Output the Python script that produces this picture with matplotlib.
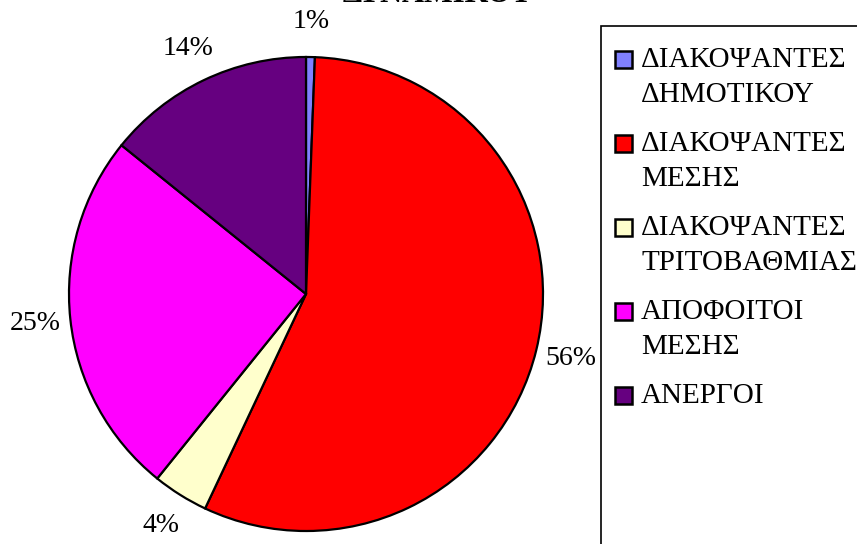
import matplotlib.pyplot as plt
from matplotlib.patches import Rectangle

plt.rcParams['font.family'] = ['Liberation Serif', 'DejaVu Serif']

# ---------- data ----------
categories = ["ΔΙΑΚΟΨΑΝΤΕΣ\nΔΗΜΟΤΙΚΟΥ", "ΔΙΑΚΟΨΑΝΤΕΣ\nΜΕΣΗΣ",
              "ΔΙΑΚΟΨΑΝΤΕΣ\nΤΡΙΤΟΒΑΘΜΙΑΣ", "ΑΠΟΦΟΙΤΟΙ\nΜΕΣΗΣ", "ΑΝΕΡΓΟΙ"]
shares = [0.6, 56.4, 3.8, 25.0, 14.2]
pct_labels = ["1%", "56%", "4%", "25%", "14%"]
colors = ["#8080FF", "#FF0000", "#FFFFCC", "#FF00FF", "#660080"]
title = "ΔΥΝΑΜΙΚΟΥ"

W, H = 857, 544
fig = plt.figure(figsize=(W/100, H/100), dpi=100)

# pie: centre (306,294) px, radius 237 px
cx, cy, r = 306, 294, 237
ax = fig.add_axes([(cx-r)/W, (H-cy-r)/H, 2*r/W, 2*r/H])
wedges, texts = ax.pie(shares, colors=colors, startangle=90, counterclock=False,
                       labels=pct_labels, labeldistance=1.15,
                       wedgeprops=dict(edgecolor="black", linewidth=1.6),
                       textprops=dict(fontsize=20))
for t in texts:
    t.set_ha("center"); t.set_va("center")
ax.set_xlim(-1, 1); ax.set_ylim(-1, 1)
ax.set_aspect("equal")

# title (cut off at the top, as in the source)
fig.text(438/W, 1 - 2/H, title, ha="center", va="baseline",
         fontsize=22, fontweight="bold")

# legend box running off the figure
fig.patches.append(Rectangle((601/W, -0.1), 0.5, (H-26)/H + 0.1,
                             transform=fig.transFigure, fill=False,
                             edgecolor="black", linewidth=1.2))
for i, (lab, col) in enumerate(zip(categories, colors)):
    y = 60 + 84*i
    fig.patches.append(Rectangle((615/W, 1-(y+8)/H), 17/W, 17/H,
                                 transform=fig.transFigure, facecolor=col,
                                 edgecolor="black", linewidth=1.8))
    for j, line in enumerate(lab.split("\n")):
        fig.text(641/W, 1-(y + 35*j)/H, line, ha="left", va="center", fontsize=21)

plt.savefig("out.png", dpi=100)
